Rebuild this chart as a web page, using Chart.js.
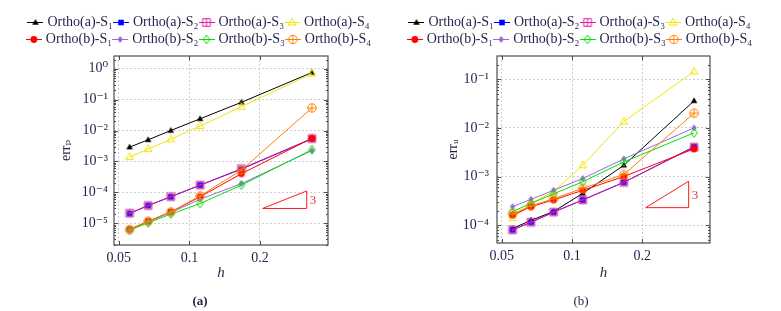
<!DOCTYPE html>
<html lang="en">
<head>
<meta charset="UTF-8">
<title>err_p and err_u convergence</title>
<script src="https://cdn.jsdelivr.net/npm/chart.js@4"></script>
<style>
  body { margin: 0; background: #fff; }
  .panel { position: absolute; top: 0; height: 311px; }
</style>
</head>
<body>

<div class="panel" style="left:0;width:390px"><canvas id="chartP" width="390" height="311"></canvas></div>
<div class="panel" style="left:390px;width:391px"><canvas id="chartU" width="391" height="311"></canvas></div>

<script>
// mesh sizes h (1/18 ... 1/3)
const hValues = [0.0556, 0.0667, 0.0833, 0.1111, 0.1667, 0.3333];
const xTicks = [0.05, 0.1, 0.2];
const xTickLabels = ['0.05', '0.1', '0.2'];

const seriesNames = [
  'Ortho(a)-S₁', 'Ortho(a)-S₂', 'Ortho(a)-S₃', 'Ortho(a)-S₄',
  'Ortho(b)-S₁', 'Ortho(b)-S₂', 'Ortho(b)-S₃', 'Ortho(b)-S₄'
];

// (a) err_p
const errP_a1 = [2.9e-3, 5.0e-3, 1.0e-2, 2.4e-2, 8.2e-2, 0.76];
const errP_a2 = [2.05e-5, 3.7e-5, 7.1e-5, 1.7e-4, 5.6e-4, 5.4e-3];
const errP_a3 = [2.1e-5, 3.7e-5, 7.2e-5, 1.7e-4, 5.8e-4, 5.5e-3];
const errP_a4 = [1.38e-3, 2.5e-3, 5.2e-3, 1.4e-2, 5.9e-2, 0.70];
const errP_b1 = [6.3e-6, 1.15e-5, 2.3e-5, 7.1e-5, 4.0e-4, 5.6e-3];
const errP_b2 = [5.9e-6, 1.1e-5, 2.2e-5, 5.9e-5, 1.9e-4, 2.25e-3];
const errP_b3 = [5.9e-6, 1.02e-5, 1.95e-5, 4.3e-5, 1.7e-4, 2.4e-3];
const errP_b4 = [6.1e-6, 1.15e-5, 2.3e-5, 7.6e-5, 5.2e-4, 5.4e-2];
const yTicksP = [1e-5, 1e-4, 1e-3, 1e-2, 1e-1, 1];
const slopeP = [[0.2053, 2.98e-5], [0.3165, 2.98e-5], [0.3165, 1.1e-4], [0.2053, 2.98e-5]];

// (b) err_u
const errU_a1 = [8.5e-5, 1.26e-4, 1.9e-4, 4.5e-4, 1.7e-3, 3.6e-2];
const errU_a2 = [8.0e-5, 1.15e-4, 1.85e-4, 3.3e-4, 7.6e-4, 4.1e-3];
const errU_a3 = [8.0e-5, 1.15e-4, 1.85e-4, 3.3e-4, 7.6e-4, 4.0e-3];
const errU_a4 = [1.4e-4, 2.8e-4, 4.9e-4, 1.7e-3, 1.35e-2, 0.144];
const errU_b1 = [1.6e-4, 2.4e-4, 3.3e-4, 5.2e-4, 1.0e-3, 3.7e-3];
const errU_b2 = [2.4e-4, 3.4e-4, 5.2e-4, 9.1e-4, 2.3e-3, 1.0e-2];
const errU_b3 = [1.9e-4, 2.8e-4, 4.4e-4, 7.8e-4, 2.0e-3, 7.9e-3];
const errU_b4 = [1.7e-4, 2.5e-4, 3.5e-4, 5.7e-4, 1.1e-3, 2.0e-2];
const yTicksU = [1e-4, 1e-3, 1e-2, 1e-1];
const slopeU = [[0.2067, 2.29e-4], [0.316, 2.29e-4], [0.316, 8.0e-4], [0.2067, 2.29e-4]];

// styles
const seriesColors = ['#000000', '#0000ff', '#d8209c', '#f2e600', '#ff0000', '#9a66dd', '#00e000', '#ff8000'];
const seriesMarks = ['tri', 'sq', 'sqplus', 'otri', 'dot', 'dia', 'odia', 'oplus'];
const textColor = '#1e2248';
const fontFamily = "'Liberation Serif', 'DejaVu Serif', serif";

function drawMark(ctx, kind, color, cx, cy) {
  ctx.strokeStyle = color;
  ctx.fillStyle = color;
  ctx.lineWidth = 1;
  ctx.beginPath();
  if (kind === 'tri' || kind === 'otri') {
    const r = kind === 'tri' ? 3.6 : 4.2;
    ctx.moveTo(cx, cy - r);
    ctx.lineTo(cx + r * 0.9, cy + r * 0.6);
    ctx.lineTo(cx - r * 0.9, cy + r * 0.6);
    ctx.closePath();
    kind === 'tri' ? ctx.fill() : ctx.stroke();
  } else if (kind === 'sq') {
    ctx.fillRect(cx - 2.8, cy - 2.8, 5.6, 5.6);
  } else if (kind === 'sqplus') {
    ctx.rect(cx - 3.8, cy - 3.8, 7.6, 7.6);
    ctx.moveTo(cx - 3.8, cy); ctx.lineTo(cx + 3.8, cy);
    ctx.moveTo(cx, cy - 3.8); ctx.lineTo(cx, cy + 3.8);
    ctx.stroke();
  } else if (kind === 'dot') {
    ctx.arc(cx, cy, 3.4, 0, Math.PI * 2);
    ctx.fill();
  } else if (kind === 'dia') {
    ctx.moveTo(cx, cy - 3.4); ctx.lineTo(cx + 2.6, cy);
    ctx.lineTo(cx, cy + 3.4); ctx.lineTo(cx - 2.6, cy);
    ctx.closePath();
    ctx.fill();
  } else if (kind === 'odia') {
    ctx.moveTo(cx, cy - 4.3); ctx.lineTo(cx + 3.4, cy);
    ctx.lineTo(cx, cy + 4.3); ctx.lineTo(cx - 3.4, cy);
    ctx.closePath();
    ctx.stroke();
  } else if (kind === 'oplus') {
    ctx.arc(cx, cy, 4.2, 0, Math.PI * 2);
    ctx.moveTo(cx - 4.2, cy); ctx.lineTo(cx + 4.2, cy);
    ctx.moveTo(cx, cy - 4.2); ctx.lineTo(cx, cy + 4.2);
    ctx.stroke();
  }
}

function markCanvas(kind, color) {
  const c = document.createElement('canvas');
  c.width = 12; c.height = 12;
  drawMark(c.getContext('2d'), kind, color, 6, 6);
  return c;
}

function legendIcon(kind, color) {
  const c = document.createElement('canvas');
  c.width = 16; c.height = 12;
  const ctx = c.getContext('2d');
  ctx.strokeStyle = color;
  ctx.lineWidth = 1;
  ctx.beginPath();
  ctx.moveTo(0, 6.5); ctx.lineTo(16, 6.5);
  ctx.stroke();
  drawMark(ctx, kind, color, 8, 6.5);
  return c;
}

function supPow(v) {
  const sup = {'-': '⁻', '0': '⁰', '1': '¹', '2': '²', '3': '³', '4': '⁴', '5': '⁵', '6': '⁶'};
  const k = String(Math.round(Math.log10(v)));
  return '10' + k.split('').map(ch => sup[ch]).join('');
}

// box around the plot, small inward ticks, and the "3" of the slope triangle
const framePlugin = {
  id: 'frame',
  beforeDatasetsDraw(chart) {
    const {ctx, chartArea: a, scales} = chart;
    ctx.save();
    ctx.strokeStyle = '#4d4d4d';
    ctx.lineWidth = 1;
    ctx.beginPath();
    // y: decade ticks plus minor ones
    const lo = Math.floor(Math.log10(scales.y.min));
    const hi = Math.ceil(Math.log10(scales.y.max));
    for (let k = lo; k <= hi; k++) {
      for (let m = 1; m <= 9; m++) {
        const v = m * Math.pow(10, k);
        if (v < scales.y.min || v > scales.y.max) continue;
        const y = Math.round(scales.y.getPixelForValue(v)) + 0.5;
        const len = m === 1 ? 4 : 2;
        ctx.moveTo(a.left, y); ctx.lineTo(a.left + len, y);
        ctx.moveTo(a.right, y); ctx.lineTo(a.right - len, y);
      }
    }
    xTicks.forEach(v => {
      const x = Math.round(scales.x.getPixelForValue(v)) + 0.5;
      ctx.moveTo(x, a.bottom); ctx.lineTo(x, a.bottom - 4);
      ctx.moveTo(x, a.top); ctx.lineTo(x, a.top + 4);
    });
    ctx.stroke();
    ctx.lineWidth = 1.2;
    ctx.strokeRect(a.left, a.top, a.right - a.left, a.bottom - a.top);
    ctx.restore();
  },
  afterDatasetsDraw(chart, args, opts) {
    const {ctx, scales} = chart;
    const x = scales.x.getPixelForValue(opts.labelAt[0]);
    const y = scales.y.getPixelForValue(opts.labelAt[1]);
    ctx.save();
    ctx.fillStyle = '#e8304a';
    ctx.font = '13px ' + fontFamily;
    ctx.textBaseline = 'middle';
    ctx.fillText('3', x + 3, y + 1);
    ctx.restore();
  }
};

function makeChart(canvasId, series, yTicks, yMin, yMax, slope, yTitle, caption, captionBold, box) {
  const datasets = series.map((vals, i) => ({
    label: seriesNames[i],
    data: hValues.map((h, j) => ({x: h, y: vals[j]})),
    borderColor: seriesColors[i],
    backgroundColor: seriesColors[i],
    borderWidth: 1,
    pointStyle: markCanvas(seriesMarks[i], seriesColors[i]),
    pointRadius: 4,
    tension: 0,
    order: -i
  }));
  datasets.push({
    label: 'slope',
    data: slope.map(p => ({x: p[0], y: p[1]})),
    borderColor: '#ff1a1a',
    borderWidth: 1,
    pointRadius: 0,
    tension: 0,
    order: -20
  });

  const gridOpts = {color: '#cccccc', drawTicks: false};
  const borderOpts = {display: false, dash: [2, 2]};

  return new Chart(document.getElementById(canvasId), {
    type: 'line',
    data: {datasets},
    plugins: [framePlugin],
    options: {
      responsive: false,
      animation: false,
      layout: {padding: {top: 12, left: box.padLeft, right: box.padRight, bottom: 0}},
      scales: {
        x: {
          type: 'logarithmic',
          min: 0.0477,
          max: 0.39,
          grid: gridOpts,
          border: borderOpts,
          afterBuildTicks: s => { s.ticks = xTicks.map(v => ({value: v})); },
          afterFit: s => { s.height = box.xHeight; },
          ticks: {
            autoSkip: false,
            maxRotation: 0,
            padding: 5,
            color: textColor,
            font: {family: fontFamily, size: 14},
            callback: (v, i) => xTickLabels[i]
          },
          title: {
            display: true,
            text: 'h',
            color: textColor,
            padding: {top: 0, bottom: 11},
            font: {family: fontFamily, size: 15, style: 'italic'}
          }
        },
        y: {
          type: 'logarithmic',
          min: yMin,
          max: yMax,
          grid: gridOpts,
          border: borderOpts,
          afterBuildTicks: s => { s.ticks = yTicks.map(v => ({value: v})); },
          afterFit: s => { s.width = box.yWidth; },
          ticks: {
            autoSkip: false,
            padding: box.yTickPad,
            color: textColor,
            font: {family: fontFamily, size: 14},
            callback: v => supPow(v)
          },
          title: {
            display: true,
            text: yTitle,
            color: textColor,
            padding: {top: box.yTitlePad, bottom: 0},
            font: {family: fontFamily, size: 14}
          }
        },
        pad: {
          type: 'linear',
          position: 'right',
          grid: {display: false},
          border: {display: false},
          ticks: {display: false},
          afterFit: s => { s.width = box.rightWidth; }
        }
      },
      plugins: {
        frame: {labelAt: [slope[1][0], Math.sqrt(slope[1][1] * slope[2][1])]},
        legend: {
          position: 'top',
          labels: {
            usePointStyle: true,
            pointStyleWidth: 10,
            padding: 3,
            color: textColor,
            font: {family: fontFamily, size: 14},
            generateLabels: chart => seriesNames.map((name, i) => ({
              text: name,
              pointStyle: legendIcon(seriesMarks[i], seriesColors[i]),
              fillStyle: seriesColors[i],
              strokeStyle: seriesColors[i],
              lineWidth: 1,
              hidden: false,
              datasetIndex: i,
              fontColor: textColor
            }))
          }
        },
        title: {
          display: true,
          text: caption,
          position: 'bottom',
          color: textColor,
          padding: {top: 0, bottom: 2},
          font: {family: fontFamily, size: 13, weight: captionBold ? 'bold' : 'normal'}
        },
        tooltip: {enabled: false}
      }
    }
  });
}

makeChart('chartP',
  [errP_a1, errP_a2, errP_a3, errP_a4, errP_b1, errP_b2, errP_b3, errP_b4],
  yTicksP, 1.95e-6, 2.6, slopeP, 'errₚ', '(a)', true,
  {padLeft: 10, padRight: 0, yWidth: 104, yTickPad: 6, yTitlePad: 47.6, rightWidth: 62, xHeight: 48.4});

makeChart('chartU',
  [errU_a1, errU_a2, errU_a3, errU_a4, errU_b1, errU_b2, errU_b3, errU_b4],
  yTicksU, 4.3e-5, 0.3, slopeU, 'errᵤ', '(b)', false,
  {padLeft: 0, padRight: 9, yWidth: 107, yTickPad: 8, yTitlePad: 54.6, rightWidth: 62, xHeight: 50.4});
</script>

</body>
</html>
